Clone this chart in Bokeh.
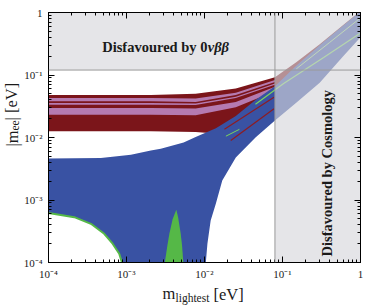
import math
from bokeh.plotting import figure
from bokeh.models import LogAxis, FixedTicker, CustomJSTickFormatter, Label, Span, Title
from bokeh.embed import file_html
from bokeh.resources import INLINE

# ---------------- data ----------------
tick_values = [1e-4, 1e-3, 1e-2, 1e-1, 1.0]
tick_labels = ["10\u207b\u2074", "10\u207b\u00b3", "10\u207b\u00b2", "10\u207b\u00b9", "1"]

mee_bound = 0.12      # 0vbb bound on |m_ee|
mlight_bound = 0.08   # cosmology bound on m_lightest

# inverted hierarchy band (dark red)
ih_top_x = [1e-4, 2.05e-3, 7.7e-3, 0.0252, 0.08, 0.15, 0.3, 0.6, 1.0]
ih_top_y = [0.048, 0.048, 0.050, 0.061, 0.092, 0.16, 0.31, 0.63, 1.06]
ih_bot_x = [1e-4, 2.05e-3, 7.7e-3, 0.0113, 0.0252, 0.08, 0.3, 1.0]
ih_bot_y = [0.0126, 0.0126, 0.0123, 0.0118, 0.016, 0.04, 0.15, 0.5]

# pink stripes inside the IH band
stripe_x = [1e-4, 2.05e-3, 7.7e-3, 0.0252, 0.08]
stripe1_top = [0.043, 0.043, 0.042, 0.052, 0.083]
stripe1_bot = [0.038, 0.038, 0.037, 0.048, 0.077]
stripe2_top = [0.0355, 0.0355, 0.035, 0.045, 0.073]
stripe2_bot = [0.0335, 0.0335, 0.033, 0.043, 0.070]
stripe3_top = [0.0296, 0.0296, 0.029, 0.037, 0.065]
stripe3_bot = [0.0232, 0.0232, 0.0227, 0.0305, 0.055]

# normal hierarchy band (blue)
nh_top_x = [1e-4, 4.7e-4, 1.14e-3, 2.05e-3, 2.75e-3, 5.4e-3, 7.7e-3, 0.014, 0.0252, 0.0454, 0.08, 0.15, 0.3, 0.6, 1.0]
nh_top_y = [0.0046, 0.0047, 0.0053, 0.0062, 0.0066, 0.0083, 0.0102, 0.014, 0.022, 0.040, 0.066, 0.14, 0.30, 0.62, 1.04]
nh_right_x = [1.0, 0.6, 0.3, 0.15, 0.08, 0.0454, 0.0252, 0.0169, 0.014, 0.012, 0.0109, 0.0104]
nh_right_y = [0.40, 0.20, 0.075, 0.036, 0.0187, 0.0101, 0.0048, 0.00205, 8.8e-4, 4.7e-4, 2.0e-4, 1e-4]
nh_left_x = [8.73e-4, 8.07e-4, 6.64e-4, 5.18e-4, 3.5e-4, 2.14e-4, 1e-4]
nh_left_y = [1e-4, 1.38e-4, 2.0e-4, 2.88e-4, 4.16e-4, 5.31e-4, 6.2e-4]

# thin lines inside the NH band
red_line1_x = [0.018, 0.0778]
red_line1_y = [0.0135, 0.0441]
red_line2_x = [0.0217, 0.0778]
red_line2_y = [0.00895, 0.0288]
green_line1_x = [0.045, 0.1035, 0.337, 1.0]
green_line1_y = [0.034, 0.0731, 0.19, 0.47]
green_line2_x = [0.0188, 0.028]
green_line2_y = [0.0105, 0.0135]
green_line3_x = [0.15, 0.4, 1.0]
green_line3_y = [0.125, 0.33, 0.82]

# green spike at the bottom
spike_x = [3.1e-3, 3.35e-3, 3.55e-3, 3.9e-3, 4.35e-3, 4.6e-3, 4.95e-3, 5.15e-3, 5.35e-3]
spike_y = [1e-4, 1.9e-4, 2.9e-4, 4.9e-4, 7.0e-4, 5.2e-4, 2.9e-4, 1.9e-4, 1e-4]

# ---------------- styling ----------------
RED = "#7b151a"
PINK = "#b57ab0"
BLUE = "#3952a3"
GREEN = "#55b847"
GRAY_FILL = "#d6d6db"
SERIF = "Liberation Serif"
TXT = "#1a1a1a"

FL, FT, FW, FH = 48, 12, 312, 250   # frame in page pixels


def dx(px):
    return 10 ** (-4 + (px - FL) / (FW / 4.0))


def dy(py):
    return 10 ** (-(py - FT) / (FH / 4.0))


p = figure(x_axis_type="log", y_axis_type="log", x_range=(1e-4, 1), y_range=(1e-4, 1),
           frame_width=FW, frame_height=FH, min_border_left=48, min_border_right=6,
           min_border_top=12, min_border_bottom=43, output_backend="svg",
           toolbar_location=None, background_fill_color="white")
p.grid.visible = False
p.outline_line_color = "black"

minor = [k * 10 ** e for e in range(-4, 0) for k in range(2, 10)]
fmt = CustomJSTickFormatter(args=dict(tvals=tick_values, tlabs=tick_labels), code="""
let best = 0, bd = 1e9;
for (let i = 0; i < tvals.length; i++) {
  const d = Math.abs(Math.log10(tick) - Math.log10(tvals[i]));
  if (d < bd) { bd = d; best = i; }
}
return tlabs[best];
""")
blank = CustomJSTickFormatter(code="return '';")


def style(ax, show, standoff=5):
    ax.ticker = FixedTicker(ticks=tick_values, minor_ticks=minor)
    ax.major_tick_in = 6
    ax.major_tick_out = 0
    ax.minor_tick_in = 3
    ax.minor_tick_out = 0
    ax.axis_line_color = "black"
    ax.major_tick_line_color = "black"
    ax.minor_tick_line_color = "black"
    if show:
        ax.formatter = fmt
        ax.major_label_text_font = SERIF
        ax.major_label_text_font_size = "11px"
        ax.major_label_text_color = TXT
        ax.major_label_standoff = standoff
    else:
        ax.formatter = blank
        ax.major_label_text_font_size = "0px"
        ax.major_label_standoff = 0


style(p.xaxis[0], True, 5)
style(p.yaxis[0], True, 6)
top_ax = LogAxis()
right_ax = LogAxis()
style(top_ax, False)
style(right_ax, False)
p.add_layout(top_ax, "above")
p.add_layout(right_ax, "right")

# IH band
p.patch(ih_top_x + ih_bot_x[::-1], ih_top_y + ih_bot_y[::-1], fill_color=RED, line_color=None)
for t, b in [(stripe1_top, stripe1_bot), (stripe2_top, stripe2_bot), (stripe3_top, stripe3_bot)]:
    p.patch(stripe_x + stripe_x[::-1], t + b[::-1], fill_color=PINK, line_color=None)

# NH band
p.patch(nh_top_x + nh_right_x + nh_left_x, nh_top_y + nh_right_y + nh_left_y,
        fill_color=BLUE, line_color=None)
p.line(red_line1_x, red_line1_y, line_color="#8e1c22", line_width=1.2)
p.line(red_line2_x, red_line2_y, line_color="#8e1c22", line_width=1.2)
p.line(green_line1_x, green_line1_y, line_color="#7bd65c", line_width=1.2)
p.line(green_line2_x, green_line2_y, line_color="#7bd65c", line_width=1.0)
p.line(green_line3_x, green_line3_y, line_color="#9ad87e", line_width=1.0)
p.line(nh_left_x, nh_left_y, line_color=GREEN, line_width=2)
p.patch(spike_x, spike_y, fill_color=GREEN, line_color=None)

# disfavoured regions
p.patch([1e-4, mlight_bound, mlight_bound, 1, 1, 1e-4],
        [mee_bound, mee_bound, 1e-4, 1e-4, 1, 1],
        fill_color=GRAY_FILL, fill_alpha=0.64, line_color=None)
p.add_layout(Span(location=mee_bound, dimension="width", line_color="#9a9a9a", line_width=1))
p.add_layout(Span(location=mlight_bound, dimension="height", line_color="#9a9a9a", line_width=1))

# texts inside the frame
p.add_layout(Label(x=dx(101.7), y=dy(46.7), text="Disfavoured by 0", text_font=SERIF,
                   text_font_style="bold", text_font_size="14.5px", text_color=TXT,
                   text_baseline="alphabetic", text_align="left"))
p.add_layout(Label(x=dx(101.7), y=dy(46.7), x_offset=105.5, text="\u03bd\u03b2\u03b2", text_font=SERIF,
                   text_font_style="bold italic", text_font_size="14.5px", text_color=TXT,
                   text_baseline="alphabetic", text_align="left"))
p.add_layout(Label(x=dx(326), y=dy(256), angle=math.pi / 2, text="Disfavoured by Cosmology",
                   text_font=SERIF, text_font_style="bold", text_font_size="14.5px",
                   text_color=TXT, text_baseline="alphabetic", text_align="left"))


def ttl(text, size, standoff, offset):
    return Title(text=text, text_font=SERIF, text_font_size=size, text_font_style="normal",
                 text_color=TXT, standoff=standoff, offset=offset, align="left",
                 vertical_align="middle")


# x axis label: m_lightest [eV]  (side-panel titles)
p.add_layout(ttl(" ", "16.5px", -11, 0), "below")
p.add_layout(ttl("m", "16.5px", -20, 114), "below")
p.add_layout(ttl("[eV]", "16.5px", -20, 165), "below")
p.add_layout(ttl("lightest", "11.5px", -8, 127), "below")

# y axis label: |m_ee| [eV]
p.add_layout(ttl(" ", "16.5px", -17, 0), "left")
p.add_layout(ttl("ee", "11.5px", -6, 132), "left")
p.add_layout(ttl("|m", "16.5px", -20, 116), "left")
p.add_layout(ttl("| [eV]", "16.5px", -20, 142), "left")

open("out.html", "w").write(file_html(p, INLINE))
